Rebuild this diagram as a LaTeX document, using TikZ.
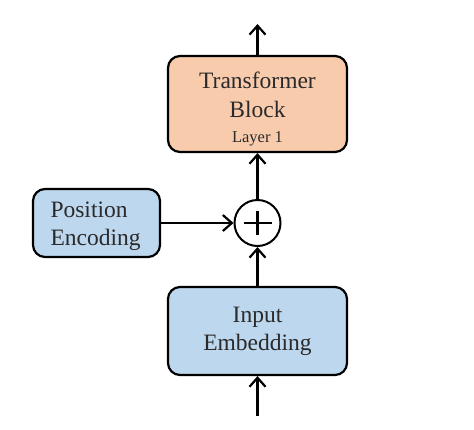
\documentclass[tikz,border=0pt]{standalone}
\usepackage{fontspec}
\setmainfont{Liberation Serif}
\usetikzlibrary{arrows.meta}
\definecolor{peach}{HTML}{F8CBAD}
\definecolor{lblue}{HTML}{BDD7EE}
\definecolor{txt}{HTML}{2A2A2A}
\begin{document}
\begin{tikzpicture}[x=1pt,y=-1pt,
  blk/.style={draw=black,line width=2.2pt,rounded corners=12pt,inner sep=0pt,align=center,text=txt},
  lbl/.style={text=txt,font=\rmfamily\fontsize{23.5}{29}\selectfont},
  arr/.style={line width=2.2pt,-{Straight Barb[length=9pt,width=16pt,line width=2.2pt]}}]
\useasboundingbox (0,0) rectangle (474,429);
\node[blk,fill=peach,minimum width=179pt,minimum height=96pt] (tb) at (257.5,104) {};
\node[lbl,anchor=base] (t1) at (257.5,88) {Transformer};
\node[lbl,anchor=base] (t2) at (257.5,117) {Block};
\node[lbl,font=\rmfamily\fontsize{16.5}{20}\selectfont,anchor=base] (t3) at (257.5,142) {Layer 1};
\node[blk,fill=lblue,minimum width=127pt,minimum height=68pt] (pe) at (96.5,223) {};
\node[lbl,anchor=base west] (p1) at (47,217) {Position};
\node[lbl,anchor=base west] (p2) at (47,245) {Encoding};
\node[blk,fill=lblue,minimum width=179pt,minimum height=88pt] (ie) at (257.5,331) {};
\node[lbl,anchor=base] (i1) at (257.5,322) {Input};
\node[lbl,anchor=base] (i2) at (257.5,350) {Embedding};
\node[draw=black,line width=2pt,circle,minimum size=46pt,inner sep=0pt] (add) at (257.5,223) {};
\draw[line width=2.6pt] ([xshift=-14pt]add.center) -- ([xshift=14pt]add.center);
\draw[line width=2.6pt] ([yshift=-12pt]add.center) -- ([yshift=12pt]add.center);
\coordinate (top) at (257.5,24);
\coordinate (bot) at (257.5,416);
\draw[arr] (tb.north) -- (top);
\draw[arr] (add.north) -- (tb.south);
\draw[arr] (ie.north) -- (add.south);
\draw[arr] (bot) -- (ie.south);
\draw[arr] (pe.east) -- (add.west);
\end{tikzpicture}
\end{document}
